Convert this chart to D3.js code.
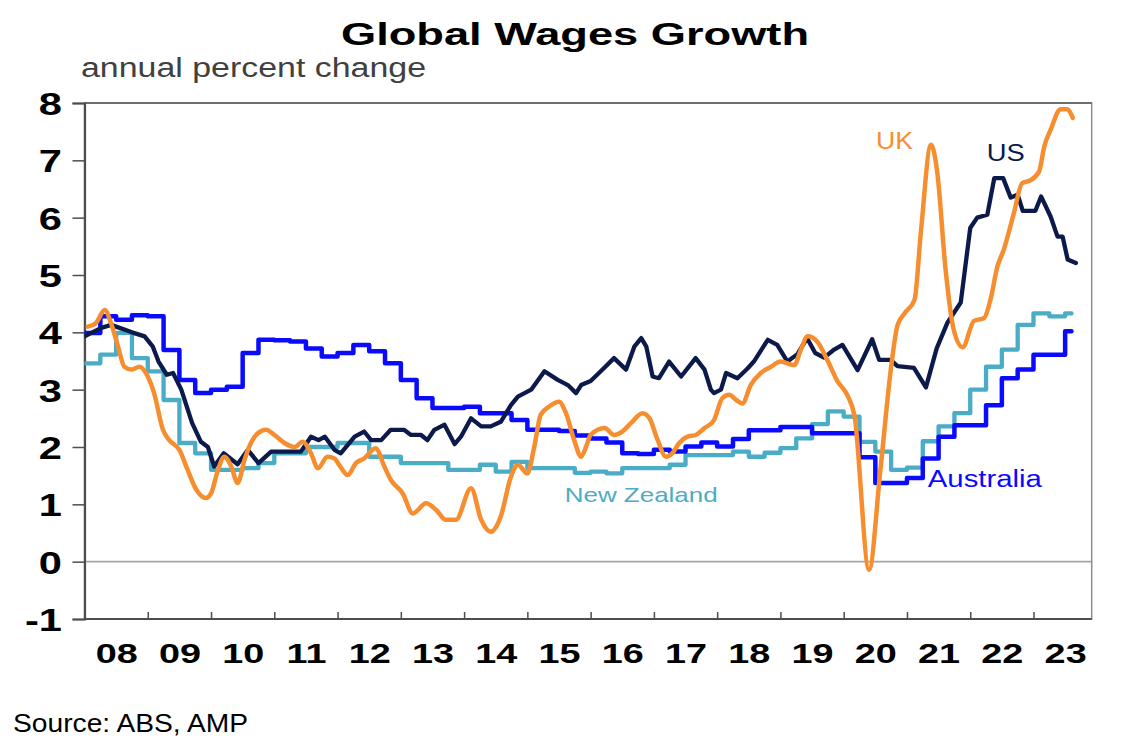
<!DOCTYPE html>
<html><head><meta charset="utf-8">
<script src="https://cdn.jsdelivr.net/npm/d3@7"></script>
<style>
html,body{margin:0;padding:0;background:#fff;}
svg{display:block;font-family:"Liberation Sans",Arial,sans-serif;}
</style></head>
<body>
<svg id="c" width="1121" height="747"></svg>
<script>
// ---------- data ----------
const title = "Global Wages Growth";
const subtitle = "annual percent change";
const source = "Source: ABS, AMP";
const yTicks = [-1, 0, 1, 2, 3, 4, 5, 6, 7, 8];
const yearLabels = ["08","09","10","11","12","13","14","15","16","17","18","19","20","21","22","23"];
const firstYear = 2008;
const lastDate = 2023.92;

// Australia wage price index, quarterly from 2008 Q1
const auValues = [3.99,4.28,4.22,4.30, 4.28,3.69,3.17,2.94, 3.00,3.05,3.64,3.87, 3.86,3.84,3.72,3.58,
  3.64,3.78,3.67,3.46, 3.17,2.85,2.68,2.68, 2.70,2.59,2.59,2.47, 2.30,2.30,2.28,2.20,
  2.15,2.08,1.89,1.88, 1.95,1.92,2.01,2.08, 2.01,2.14,2.29,2.29, 2.35,2.35,2.24,2.24,
  2.24,1.82,1.37,1.37, 1.46,1.80,2.18,2.38, 2.38,2.73,3.20,3.35, 3.61,3.61,4.02];
const auEnd = 2023.6;
// New Zealand, quarterly from 2008 Q1
const nzValues = [3.46,3.61,3.99,3.55, 3.32,2.82,2.07,1.89, 1.60,1.60,1.63,1.72, 1.89,1.89,2.00,2.00,
  2.07,2.07,1.83,1.83, 1.72,1.72,1.72,1.60, 1.60,1.69,1.57,1.74, 1.63,1.63,1.63,1.55,
  1.57,1.54,1.63,1.63, 1.63,1.69,1.86,1.86, 1.86,1.92,1.83,1.90, 1.98,2.15,2.40,2.62,
  2.53,2.09,1.92,1.60, 1.64,2.10,2.36,2.59, 3.00,3.40,3.70,4.13, 4.33,4.28,4.33];
const nzEnd = 2023.6;
// US
const usDates = [2008.00,2008.25,2008.42,2008.75,2008.95,2009.08,2009.17,2009.30,2009.40,2009.53,2009.70,2009.84,2009.95,
  2010.05,2010.20,2010.42,2010.58,2010.75,2010.95,2011.42,2011.58,2011.70,2011.80,2011.95,
  2012.05,2012.27,2012.42,2012.53,2012.69,2012.84,2013.05,2013.16,2013.32,2013.42,2013.53,2013.69,2013.85,2013.95,
  2014.11,2014.27,2014.42,2014.58,2014.74,2014.85,2015.06,2015.27,2015.48,2015.64,2015.77,2015.85,
  2016.00,2016.16,2016.37,2016.56,2016.69,2016.80,2016.88,2016.98,2017.08,2017.24,2017.43,2017.66,2017.80,2017.90,2017.95,
  2018.06,2018.14,2018.32,2018.48,2018.58,2018.80,2018.95,2019.11,2019.27,2019.42,2019.55,2019.69,2019.85,2019.98,
  2020.22,2020.45,2020.56,2020.74,2020.85,2021.11,2021.30,2021.47,2021.64,2021.85,
  2022.00,2022.11,2022.27,2022.38,2022.52,2022.64,2022.75,2022.83,2023.03,2023.12,2023.27,2023.38,2023.46,2023.54,2023.67];
const usValues = [3.93,4.07,4.13,4.00,3.93,3.75,3.49,3.26,3.29,3.00,2.42,2.09,2.00,
  1.66,1.89,1.70,1.95,1.72,1.92,1.92,2.18,2.12,2.18,1.95,
  1.89,2.18,2.27,2.12,2.12,2.30,2.30,2.21,2.21,2.12,2.30,2.39,2.05,2.18,
  2.50,2.36,2.36,2.44,2.73,2.88,3.00,3.32,3.17,3.08,2.94,3.08,
  3.15,3.32,3.55,3.35,3.75,3.90,3.75,3.23,3.20,3.49,3.23,3.55,3.35,3.00,2.94,
  3.00,3.29,3.20,3.37,3.49,3.87,3.78,3.49,3.62,3.90,3.64,3.56,3.70,3.78,
  3.34,3.88,3.52,3.52,3.41,3.38,3.04,3.72,4.17,4.52,
  5.82,6.00,6.05,6.69,6.69,6.35,6.40,6.12,6.12,6.37,6.02,5.67,5.67,5.27,5.21];
// UK
const ukDates = [2008.05,2008.18,2008.32,2008.42,2008.53,2008.63,2008.74,2008.87,2009.00,2009.10,2009.24,2009.34,2009.50,2009.63,2009.77,2009.92,
  2010.00,2010.11,2010.21,2010.32,2010.42,2010.53,2010.63,2010.74,2010.87,2011.00,2011.16,2011.32,2011.45,2011.58,2011.69,2011.84,2011.95,
  2012.03,2012.16,2012.29,2012.42,2012.60,2012.74,2012.84,2013.03,2013.19,2013.40,2013.56,2013.71,2013.87,
  2014.11,2014.27,2014.42,2014.58,2014.74,2014.85,2015.00,2015.11,2015.21,2015.35,2015.50,2015.61,2015.74,2015.85,2015.93,
  2016.00,2016.22,2016.37,2016.50,2016.64,2016.82,2016.93,2017.06,2017.19,2017.29,2017.40,2017.53,2017.66,2017.80,2017.95,
  2018.08,2018.19,2018.30,2018.40,2018.53,2018.69,2018.85,2019.00,2019.22,2019.32,2019.43,2019.58,2019.74,2019.90,
  2020.06,2020.17,2020.40,2020.58,2020.75,2020.85,2020.97,2021.12,2021.22,2021.38,2021.48,2021.61,2021.74,2021.88,
  2022.06,2022.22,2022.32,2022.43,2022.53,2022.69,2022.82,2022.95,2023.09,2023.17,2023.27,2023.43,2023.53,2023.62];
const ukValues = [4.10,4.16,4.39,4.16,3.75,3.40,3.35,3.40,3.23,2.94,2.30,2.12,1.95,1.60,1.25,1.11,
  1.19,1.60,1.83,1.66,1.37,1.78,2.07,2.24,2.30,2.21,2.07,2.00,2.09,1.89,1.63,1.83,1.80,
  1.68,1.51,1.72,1.80,1.98,1.66,1.43,1.19,0.84,1.02,0.90,0.73,0.73,
  1.28,0.73,0.52,0.79,1.48,1.69,1.54,2.01,2.56,2.71,2.79,2.59,2.12,1.83,2.01,
  2.21,2.33,2.21,2.27,2.42,2.59,2.50,2.12,1.83,1.89,2.07,2.18,2.21,2.33,2.47,
  2.85,2.91,2.82,2.76,3.08,3.29,3.40,3.49,3.43,3.69,3.93,3.84,3.52,3.15,
  2.90,2.55,-0.14,1.60,3.40,4.12,4.34,4.57,5.75,7.27,6.78,5.10,4.04,3.74,
  4.20,4.25,4.57,5.15,5.44,6.08,6.60,6.65,6.81,7.24,7.53,7.89,7.89,7.74];

// label anchors (data units)
const seriesLabels = [
  {text:"UK", t:2020.51, v:7.20, color:"#f68e2f", size:23, w:37},
  {text:"US", t:2022.26, v:6.99, color:"#0b1a4a", size:23, w:38},
  {text:"Australia", t:2021.33, v:1.30, color:"#0a0aff", size:23, w:114},
  {text:"New Zealand", t:2015.59, v:1.04, color:"#4bacc6", size:21, w:153}
];

// ---------- layout ----------
const W = 1121, H = 747;
const m = {left:84.5, right:29.3, top:103, bottom:128};
const svg = d3.select("#c");
const x = d3.scaleLinear().domain([firstYear, lastDate]).range([m.left, W - m.right]);
const y = d3.scaleLinear().domain([-1, 8]).range([H - m.bottom, m.top]);

// Title & subtitle
svg.append("text").attr("x", 575).attr("y", 45).attr("text-anchor","middle")
  .attr("font-size", 32).attr("font-weight","bold").attr("fill","#000")
  .attr("textLength", 468).attr("lengthAdjust","spacingAndGlyphs").text(title);
svg.append("text").attr("x", 81).attr("y", 77)
  .attr("font-size", 27).attr("fill","#404040")
  .attr("textLength", 345).attr("lengthAdjust","spacingAndGlyphs").text(subtitle);
svg.append("text").attr("x", 13).attr("y", 732)
  .attr("font-size", 26).attr("fill","#000")
  .attr("textLength", 235).attr("lengthAdjust","spacingAndGlyphs").text(source);

// Zero line
svg.append("line").attr("x1", x(firstYear)).attr("x2", x(lastDate))
  .attr("y1", y(0)).attr("y2", y(0)).attr("stroke","#a6a6a6").attr("stroke-width",1.6);

// Frame
svg.append("rect").attr("x", x(firstYear)).attr("y", y(8))
  .attr("width", x(lastDate) - x(firstYear)).attr("height", y(-1) - y(8))
  .attr("fill","none").attr("stroke","#8c8c8c").attr("stroke-width",1.5);
svg.append("line").attr("x1", x(firstYear)).attr("x2", x(lastDate)).attr("y1", y(8)).attr("y2", y(8))
  .attr("stroke","#5a5a5a").attr("stroke-width",1.5);

// Y axis
const yAxis = svg.append("g").attr("transform", `translate(${m.left},0)`)
  .call(d3.axisLeft(y).tickValues(yTicks).tickSize(12).tickPadding(0).tickFormat(d => String(d)));
yAxis.select(".domain").attr("stroke","#4d4d4d").attr("stroke-width",2.2);
yAxis.selectAll(".tick line").attr("stroke","#4d4d4d").attr("stroke-width",1.5);
yAxis.selectAll(".tick text").attr("x",0).attr("dy","0.36em")
  .attr("transform","translate(-22.5,0) scale(1.3,1)")
  .attr("font-size",32).attr("font-weight","bold").attr("fill","#000")
  .attr("font-family","'Liberation Sans',Arial,sans-serif");

// X axis ticks (year boundaries, inside)
const yearBounds = yearLabels.map((d,i) => firstYear + i);
const xAxis = svg.append("g").attr("transform", `translate(0,${H - m.bottom})`)
  .call(d3.axisBottom(x).tickValues(yearBounds.slice(1)).tickSize(-7).tickFormat(""));
xAxis.select(".domain").remove();
xAxis.selectAll(".tick line").attr("stroke","#4d4d4d").attr("stroke-width",1.5);
svg.append("line").attr("x1", x(firstYear)).attr("x2", x(lastDate))
  .attr("y1", y(-1)).attr("y2", y(-1)).attr("stroke","#4d4d4d").attr("stroke-width",2.2);

// X labels (mid-year)
const xLab = svg.append("g").attr("transform", `translate(0,${H - m.bottom})`)
  .call(d3.axisBottom(x).tickValues(yearBounds.map(d => d + 0.5)).tickSize(0)
    .tickFormat((d,i) => yearLabels[i]));
xLab.select(".domain").remove();
xLab.selectAll(".tick text").attr("y",0).attr("dy",0)
  .attr("transform","translate(0,44) scale(1.35,1)")
  .attr("font-size",28).attr("font-weight","bold").attr("fill","#000")
  .attr("font-family","'Liberation Sans',Arial,sans-serif");

// ---------- lines ----------
svg.append("clipPath").attr("id","plotclip").append("rect")
  .attr("x", x(firstYear)).attr("y", y(8) - 2).attr("width", x(lastDate) - x(firstYear)).attr("height", y(-1) - y(8) + 2);
const g = svg.append("g").attr("clip-path","url(#plotclip)");

function quarterly(vals, end) {
  const pts = vals.map((v,i) => ({t: firstYear + i/4, v}));
  pts.push({t: end, v: vals[vals.length-1]});
  return pts;
}
function paired(dates, vals) { return dates.map((t,i) => ({t, v: vals[i]})); }

const series = [
  {data: quarterly(nzValues, nzEnd), color:"#4bacc6", curve:d3.curveStepAfter, w:4.3},
  {data: quarterly(auValues, auEnd), color:"#0a0aff", curve:d3.curveStepAfter, w:4.5},
  {data: paired(usDates, usValues), color:"#0b1a4a", curve:d3.curveLinear, w:4.3},
  {data: paired(ukDates, ukValues), color:"#f68e2f", curve:d3.curveMonotoneX, w:4.5}
];
series.forEach(s => {
  const line = d3.line().x(d => x(d.t)).y(d => y(d.v)).curve(s.curve);
  g.append("path").datum(s.data).attr("d", line)
    .attr("fill","none").attr("stroke", s.color).attr("stroke-width", s.w)
    .attr("stroke-linejoin","round").attr("stroke-linecap","round");
});

// series labels
seriesLabels.forEach(l => {
  svg.append("text").attr("x", x(l.t)).attr("y", y(l.v))
    .attr("font-size", l.size).attr("fill", l.color)
    .attr("textLength", l.w).attr("lengthAdjust","spacingAndGlyphs").text(l.text);
});
</script>
</body></html>
